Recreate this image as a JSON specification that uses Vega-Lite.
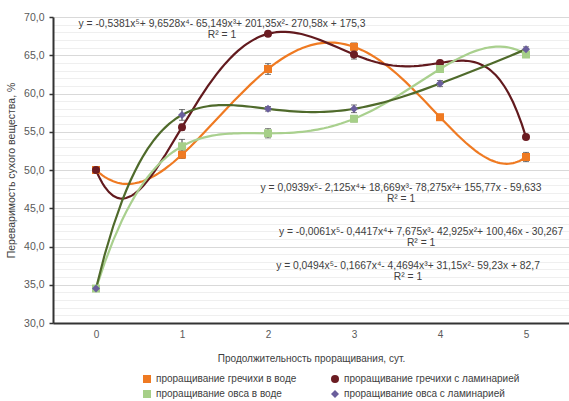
{
  "$schema": "https://vega.github.io/schema/vega-lite/v6.json",
  "autosize": "none",
  "width": 516,
  "height": 306,
  "padding": {"left": 53, "top": 17, "right": 0, "bottom": 78},
  "background": "white",
  "config": {
    "view": {"stroke": null},
    "font": "Liberation Sans",
    "text": {"font": "Liberation Sans"}
  },
  "resolve": {"axis": {"x": "independent", "y": "independent"}},
  "data": {
    "values": [
      {"s": "проращивание гречихи в воде", "x": 0, "y": 50.0, "err": 0.4},
      {"s": "проращивание гречихи в воде", "x": 1, "y": 52.0, "err": 0.5},
      {"s": "проращивание гречихи в воде", "x": 2, "y": 63.2, "err": 0.7},
      {"s": "проращивание гречихи в воде", "x": 3, "y": 66.1, "err": 0.5},
      {"s": "проращивание гречихи в воде", "x": 4, "y": 56.9, "err": 0.3},
      {"s": "проращивание гречихи в воде", "x": 5, "y": 51.7, "err": 0.6},
      {"s": "проращивание гречихи с ламинарией", "x": 0, "y": 50.0, "err": 0.4},
      {"s": "проращивание гречихи с ламинарией", "x": 1, "y": 55.6, "err": 0.4},
      {"s": "проращивание гречихи с ламинарией", "x": 2, "y": 67.8, "err": 0.3},
      {"s": "проращивание гречихи с ламинарией", "x": 3, "y": 65.1, "err": 0.6},
      {"s": "проращивание гречихи с ламинарией", "x": 4, "y": 64.0, "err": 0.3},
      {"s": "проращивание гречихи с ламинарией", "x": 5, "y": 54.3, "err": 0.3},
      {"s": "проращивание овса в воде", "x": 0, "y": 34.5, "err": 0.3},
      {"s": "проращивание овса в воде", "x": 1, "y": 53.1, "err": 0.9},
      {"s": "проращивание овса в воде", "x": 2, "y": 54.8, "err": 0.6},
      {"s": "проращивание овса в воде", "x": 3, "y": 56.7, "err": 0.4},
      {"s": "проращивание овса в воде", "x": 4, "y": 63.2, "err": 0.4},
      {"s": "проращивание овса в воде", "x": 5, "y": 65.1, "err": 0.4},
      {"s": "проращивание овса с ламинарией", "x": 0, "y": 34.5, "err": 0.3},
      {"s": "проращивание овса с ламинарией", "x": 1, "y": 57.2, "err": 0.7},
      {"s": "проращивание овса с ламинарией", "x": 2, "y": 58.0, "err": 0.3},
      {"s": "проращивание овса с ламинарией", "x": 3, "y": 58.0, "err": 0.5},
      {"s": "проращивание овса с ламинарией", "x": 4, "y": 61.3, "err": 0.4},
      {"s": "проращивание овса с ламинарией", "x": 5, "y": 65.8, "err": 0.3}
    ]
  },
  "layer": [
    {
      "transform": [
        {"regression": "y", "on": "x", "method": "poly", "order": 5, "groupby": ["s"]}
      ],
      "mark": {"type": "line", "strokeWidth": 2.2},
      "encoding": {
        "x": {
          "field": "x", "type": "quantitative",
          "scale": {"domain": [-0.5, 5.5], "nice": false, "zero": false},
          "axis": {
            "orient": "bottom",
            "values": [0, 1, 2, 3, 4, 5],
            "format": "d",
            "grid": false,
            "ticks": false,
            "domainColor": "#333333",
            "domainWidth": 2,
            "labelColor": "#595959",
            "labelFontSize": 10,
            "labelFont": "Liberation Sans",
            "labelPadding": 6,
            "title": "Продолжительность проращивания, сут.",
            "titleFont": "Liberation Sans",
            "titleFontSize": 10,
            "titleFontWeight": "normal",
            "titleColor": "#404040",
            "titlePadding": 14
          }
        },
        "y": {
          "field": "y", "type": "quantitative",
          "scale": {"domain": [30, 70], "nice": false, "zero": false},
          "axis": {
            "orient": "left",
            "values": [30,31,32,33,34,35,36,37,38,39,40,41,42,43,44,45,46,47,48,49,50,51,52,53,54,55,56,57,58,59,60,61,62,63,64,65,66,67,68,69,70],
            "labelExpr": "datum.value % 5 === 0 ? replace(format(datum.value, '.1f'), '.', ',') : ''",
            "labelOverlap": false,
            "labelColor": "#595959",
            "labelFontSize": 10.5,
            "labelFont": "Liberation Sans",
            "labelPadding": 5,
            "grid": true,
            "gridColor": {"condition": {"test": "datum.value % 5 === 0", "value": "#d9d9d9"}, "value": "#efefef"},
            "gridWidth": 1,
            "tickColor": "#333333",
            "tickSize": 4,
            "tickWidth": 1.5,
            "tickOpacity": {"condition": {"test": "datum.value % 5 === 0", "value": 1}, "value": 0},
            "domainColor": "#333333",
            "domainWidth": 2,
            "title": "Переваримость сухого вещества, %",
            "titleFont": "Liberation Sans",
            "titleFontSize": 10.5,
            "titleFontWeight": "normal",
            "titleColor": "#404040",
            "titlePadding": 7
          }
        },
        "stroke": {
          "field": "s", "type": "nominal",
          "scale": {
            "domain": ["проращивание овса с ламинарией", "проращивание овса в воде", "проращивание гречихи с ламинарией", "проращивание гречихи в воде"],
            "range": ["#4f6a2b", "#a9d08e", "#621a1e", "#ef7a22"]
          },
          "legend": null
        },
        "detail": {"field": "s"}
      }
    },
    {
      "mark": {"type": "errorbar", "ticks": {"size": 6}, "color": "#3d3d3d", "thickness": 1},
      "encoding": {
        "x": {"field": "x", "type": "quantitative", "axis": null},
        "y": {"field": "y", "type": "quantitative", "axis": null},
        "yError": {"field": "err"},
        "detail": {"field": "s"}
      }
    },
    {
      "mark": {"type": "point", "filled": true, "opacity": 1},
      "encoding": {
        "x": {"field": "x", "type": "quantitative", "axis": null},
        "y": {"field": "y", "type": "quantitative", "axis": null},
        "color": {
          "field": "s", "type": "nominal",
          "scale": {
            "domain": ["проращивание гречихи в воде", "проращивание гречихи с ламинарией", "проращивание овса в воде", "проращивание овса с ламинарией"],
            "range": ["#ef7a22", "#6b1c22", "#a6cf88", "#6a5e9c"]
          },
          "legend": {
            "title": null,
            "orient": "none",
            "legendX": 89,
            "legendY": 357,
            "direction": "horizontal",
            "columns": 2,
            "columnPadding": 33,
            "rowPadding": 5,
            "labelFont": "Liberation Sans",
            "labelFontSize": 10,
            "labelColor": "#404040",
            "labelOffset": 4,
            "labelLimit": 300,
            "symbolStrokeWidth": 0
          }
        },
        "shape": {
          "field": "s", "type": "nominal",
          "scale": {
            "domain": ["проращивание гречихи в воде", "проращивание гречихи с ламинарией", "проращивание овса в воде", "проращивание овса с ламинарией"],
            "range": ["square", "circle", "square", "diamond"]
          }
        },
        "size": {
          "field": "s", "type": "nominal",
          "scale": {
            "domain": ["проращивание гречихи в воде", "проращивание гречихи с ламинарией", "проращивание овса в воде", "проращивание овса с ламинарией"],
            "range": [64, 64, 49, 40]
          }
        }
      }
    },
    {
      "data": {"values": [{}]},
      "mark": {"type": "text", "font": "Liberation Sans", "fontSize": 10.3, "color": "#404040", "align": "center", "baseline": "middle", "lineHeight": 11},
      "encoding": {
        "x": {"datum": 1.465, "type": "quantitative", "axis": null},
        "y": {"datum": 69.15, "type": "quantitative", "axis": null},
        "text": {"value": ["y = -0,5381x⁵+ 9,6528x⁴- 65,149x³+ 201,35x²- 270,58x + 175,3", "R² = 1"]}
      }
    },
    {
      "data": {"values": [{}]},
      "mark": {"type": "text", "font": "Liberation Sans", "fontSize": 10.3, "color": "#404040", "align": "center", "baseline": "middle", "lineHeight": 11},
      "encoding": {
        "x": {"datum": 3.547, "type": "quantitative", "axis": null},
        "y": {"datum": 47.65, "type": "quantitative", "axis": null},
        "text": {"value": ["y = 0,0939x⁵- 2,125x⁴+ 18,669x³- 78,275x²+ 155,77x - 59,633", "R² = 1"]}
      }
    },
    {
      "data": {"values": [{}]},
      "mark": {"type": "text", "font": "Liberation Sans", "fontSize": 10.3, "color": "#404040", "align": "center", "baseline": "middle", "lineHeight": 11},
      "encoding": {
        "x": {"datum": 3.78, "type": "quantitative", "axis": null},
        "y": {"datum": 41.93, "type": "quantitative", "axis": null},
        "text": {"value": ["y = -0,0061x⁵- 0,4417x⁴+ 7,675x³- 42,925x²+ 100,46x - 30,267", "R² = 1"]}
      }
    },
    {
      "data": {"values": [{}]},
      "mark": {"type": "text", "font": "Liberation Sans", "fontSize": 10.3, "color": "#404040", "align": "center", "baseline": "middle", "lineHeight": 11},
      "encoding": {
        "x": {"datum": 3.628, "type": "quantitative", "axis": null},
        "y": {"datum": 37.45, "type": "quantitative", "axis": null},
        "text": {"value": ["y = 0,0494x⁵- 0,1667x⁴- 4,4694x³+ 31,15x²- 59,23x + 82,7", "R² = 1"]}
      }
    }
  ]
}
